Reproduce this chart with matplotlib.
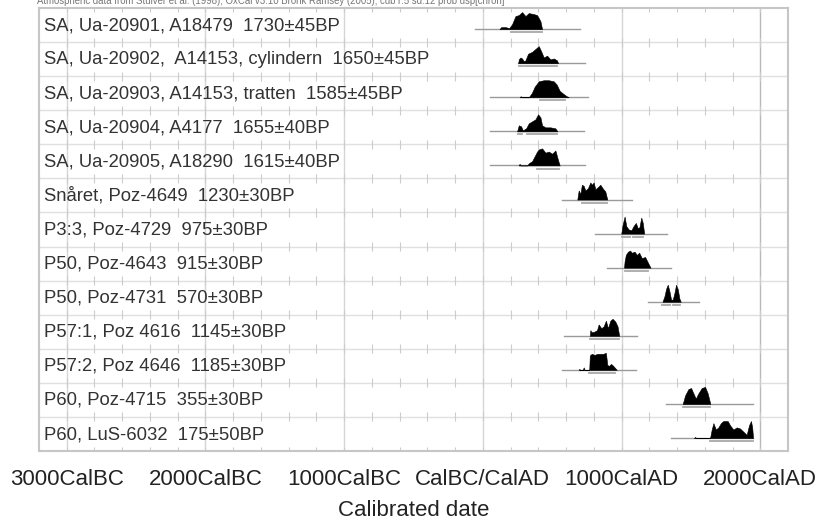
import numpy as np
import matplotlib.pyplot as plt
from matplotlib.transforms import blended_transform_factory

# sample labels (one row each, top to bottom)
labels = [
    'SA, Ua-20901, A18479  1730±45BP',
    'SA, Ua-20902,  A14153, cylindern  1650±45BP',
    'SA, Ua-20903, A14153, tratten  1585±45BP',
    'SA, Ua-20904, A4177  1655±40BP',
    'SA, Ua-20905, A18290  1615±40BP',
    'Snåret, Poz-4649  1230±30BP',
    'P3:3, Poz-4729  975±30BP',
    'P50, Poz-4643  915±30BP',
    'P50, Poz-4731  570±30BP',
    'P57:1, Poz 4616  1145±30BP',
    'P57:2, Poz 4646  1185±30BP',
    'P60, Poz-4715  355±30BP',
    'P60, LuS-6032  175±50BP',
]

# calibrated probability curves (year AD, relative prob.)
dist_years = [
    [120, 132, 163, 190, 211, 235, 259, 283, 307, 331, 367, 391, 415, 427],
    [255, 259, 270, 283, 295, 307, 326, 355, 379, 403, 422, 439, 463, 487, 511, 535, 542],
    [265, 273, 281, 331, 353, 374, 403, 439, 475, 511, 532, 554, 583, 604, 619],
    [247, 259, 276, 288, 312, 331, 355, 379, 398, 415, 427, 451, 487, 523, 537],
    [258, 265, 272, 320, 331, 355, 379, 391, 403, 427, 451, 475, 499, 523, 542, 554],
    [681, 691, 703, 714, 727, 739, 758, 775, 786, 799, 811, 830, 847, 863, 883, 897],
    [998, 1007, 1022, 1034, 1050, 1070, 1086, 1103, 1117, 1129, 1142, 1153, 1163],
    [1018, 1022, 1031, 1046, 1062, 1074, 1094, 1110, 1127, 1146, 1170, 1189, 1209],
    [1295, 1309, 1321, 1333, 1345, 1357, 1369, 1381, 1393, 1405, 1417, 1427],
    [771, 775, 783, 799, 823, 835, 854, 871, 887, 902, 919, 935, 955, 971, 983],
    [690, 696, 702, 720, 727, 734, 767, 771, 775, 786, 806, 826, 847, 867, 887, 893,
     897, 910, 924, 940, 959, 965],
    [1441, 1458, 1482, 1501, 1518, 1535, 1554, 1578, 1602, 1621, 1640],
    [1522, 1530, 1538, 1638, 1650, 1662, 1680, 1698, 1716, 1734, 1765, 1782, 1806,
     1830, 1854, 1878, 1902, 1919, 1933, 1942, 1948],
]
dist_prob = [
    [0, 2, 2, 1, 5, 13, 14, 17, 13, 16, 15, 14, 8, 0],
    [0, 4, 6, 5, 2, 3, 10, 12, 15, 18, 12, 6, 8, 4, 5, 3, 0],
    [0, 1, 0, 0, 4, 10, 15, 16, 16, 15, 12, 6, 3, 1, 0],
    [0, 6, 5, 1, 3, 8, 10, 12, 17, 14, 6, 4, 4, 3, 0],
    [0, 1.5, 0, 0, 2, 4, 10, 13, 15, 16, 12, 13, 11, 14, 5, 0],
    [0, 8, 5, 13, 12, 8, 10, 15, 13, 15, 9, 11, 13, 10, 7, 0],
    [0, 8, 16, 7, 4, 3, 7, 10, 5, 6, 15, 10, 0],
    [0, 6, 12, 15, 16, 14, 15, 12, 14, 9, 10, 5, 0],
    [0, 5, 12, 16, 10, 2, 2, 8, 16, 12, 3, 0],
    [0, 6, 4, 4, 6, 12, 8, 10, 16, 8, 16, 18, 15, 10, 0],
    [0, 1, 0, 0, 2.5, 0, 0, 14, 15, 16, 15, 16, 16, 16, 17, 10, 5, 4, 6, 4, 1, 0],
    [0, 8, 14, 15, 10, 5, 10, 15, 16, 10, 0],
    [0, 1, 0, 0, 8, 14, 8, 10, 14, 16, 16, 12, 8, 10, 9, 6, 3, 12, 16, 10, 0],
]

# full plotted range (thin line) and probability ranges (bars below)
range_lines = [(-58, 698), (252, 734), (50, 755), (50, 727), (50, 734), (568, 1072),
               (806, 1331), (892, 1360), (1194, 1561), (583, 1108), (568, 1101),
               (1317, 1950), (1360, 1950)]
range_bars = [
    [(206, 427)],
    [(259, 290), (304, 535)],
    [(415, 595)],
    [(252, 281), (317, 532)],
    [(391, 552)],
    [(712, 892)],
    [(1002, 1062), (1086, 1158)],
    [(1022, 1194)],
    [(1295, 1350), (1374, 1422)],
    [(775, 983)],
    [(763, 951)],
    [(1441, 1640)],
    [(1638, 1950)],
]

tick_years = [-3000, -2000, -1000, 0, 1000, 2000]
tick_labels = ['3000CalBC', '2000CalBC', '1000CalBC', 'CalBC/CalAD', '1000CalAD', '2000CalAD']

sans = ['Liberation Sans', 'DejaVu Sans']

fig = plt.figure(figsize=(8.2, 5.24), dpi=100)
ax = fig.add_axes([39 / 820, 1 - 451 / 524, 749 / 820, 443 / 524])
n = len(labels)
ax.set_xlim(-3200, 2200)
ax.set_ylim(n, 0)

# grid: full lines every 1000 years, row separators, short ticks every 200 years
for yr in tick_years:
    ax.axvline(yr, color='#b8b8b8' if yr == 2000 else '#d6d6d6', lw=1, zorder=0)
for i in range(1, n):
    ax.axhline(i, color='#e0e0e0', lw=1, zorder=0)
minor = np.arange(-3200, 2201, 200)
for i in range(n + 1):
    ax.vlines(minor, i - 0.13, i + 0.13, color='#cccccc', lw=0.8, zorder=0)

trans = blended_transform_factory(ax.transAxes, ax.transData)
for i in range(n):
    base = i + 0.62
    ax.text(0.0067, i + 0.65, labels[i], transform=trans, fontsize=13.3,
            family=sans, color='#333333', va='baseline', zorder=3)
    a, b = range_lines[i]
    ax.plot([a, b], [base, base], color='#9a9a9a', lw=1, zorder=2)
    p = np.array(dist_prob[i], dtype=float)
    h = p / p.max() * 0.5
    ax.fill_between(dist_years[i], base - h, base, color='black', lw=0.4, zorder=4)
    for a, b in range_bars[i]:
        ax.plot([a, b], [base + 0.09, base + 0.09], color='#a8a8a8', lw=1.3, zorder=2)

for s in ax.spines.values():
    s.set_color('#c6c6c6')
    s.set_linewidth(1.5)

ax.set_yticks([])
ax.set_xticks(tick_years, tick_labels)
ax.tick_params(axis='x', length=0, pad=13, labelsize=16, labelcolor='#222222')
for t in ax.get_xticklabels():
    t.set_family(sans)
ax.set_xlabel('Calibrated date', fontsize=16, labelpad=7, color='#222222', family=sans)

fig.text(37 / 820, 0.998, 'Atmospheric data from Stuiver et al. (1998); OxCal v3.10 Bronk Ramsey (2005); '
         'cub r:5 sd:12 prob usp[chron]', fontsize=6.9, va='center', color='#777777',
         family=sans)

fig.savefig('out.png', dpi=100)
